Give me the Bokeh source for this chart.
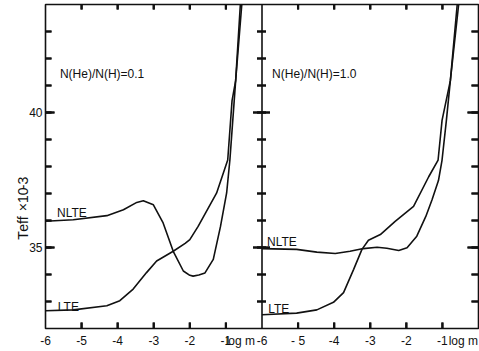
import math
from bokeh.plotting import figure
from bokeh.models import (ColumnDataSource, LinearAxis, FixedTicker, Range1d, Label, Span)
from bokeh.transform import dodge
from bokeh.embed import file_html
from bokeh.resources import INLINE

# ---------------- data ----------------
# left panel: N(He)/N(H) = 0.1
left_nlte_logm = [-6.0, -5.23, -4.30, -3.84, -3.47, -3.29, -3.01, -2.74, -2.46, -2.18,
                  -2.0, -1.91, -1.75, -1.58, -1.35, -1.15, -0.98, -0.89, -0.77, -0.73, -0.60]
left_nlte_teff = [35.97, 36.03, 36.18, 36.40, 36.67, 36.73, 36.58, 35.91, 34.86, 34.13,
                  33.97, 33.94, 33.98, 34.06, 34.56, 35.78, 37.02, 38.24, 40.44, 41.18, 44.0]
left_lte_logm = [-6.0, -5.23, -4.30, -3.94, -3.57, -3.20, -2.92, -2.46, -2.13, -2.0,
                 -1.77, -1.26, -0.95, -0.83, -0.73, -0.56]
left_lte_teff = [32.66, 32.69, 32.84, 33.03, 33.46, 34.07, 34.50, 34.86, 35.15, 35.29,
                 35.78, 37.01, 38.24, 40.44, 41.18, 44.0]

# right panel: N(He)/N(H) = 1.0
right_nlte_logm = [-6.0, -5.04, -4.48, -3.97, -3.56, -3.19, -2.81, -2.54, -2.21, -1.98,
                   -1.71, -1.46, -1.29, -1.11, -1.01, -0.89, -0.78, -0.59]
right_nlte_teff = [34.96, 34.93, 34.83, 34.78, 34.86, 34.96, 35.01, 34.97, 34.89, 34.99,
                   35.42, 36.15, 36.76, 37.48, 38.24, 39.71, 41.18, 44.0]
right_lte_logm = [-6.0, -5.04, -4.48, -4.02, -3.74, -3.46, -3.23, -3.05, -2.72, -2.31,
                  -1.80, -1.38, -1.12, -1.01, -0.78, -0.55]
right_lte_teff = [32.51, 32.57, 32.69, 32.97, 33.33, 34.19, 34.93, 35.27, 35.48, 35.97,
                  36.52, 37.62, 38.24, 39.71, 41.18, 44.0]

x_ticks = [-6.0, -5.0, -4.0, -3.0, -2.0, -1.0]
x_tick_labels_left = ["-6", "-5", "-4", "-3", "-2", "-1"]
x_tick_labels_right = ["-6", "- 5", "-4", "-3", "-2", "-1"]
x_title = "log m"
x_title_pos = [-0.60, -0.42]          # where "log m" sits in each panel
y_major = [35.0, 40.0]
y_minor = [33.0, 34.0, 35.0, 36.0, 37.0, 38.0, 39.0, 40.0, 41.0, 42.0, 43.0]
y_title_parts = ["T", "eff", "×10", "-3"]
y_title_pos = [35.60, 36.15, 37.22, 37.62]
panel_titles = ["N(He)/N(H)=0.1", "N(He)/N(H)=1.0"]

OFFSET = 6.0  # right panel is drawn shifted by 6 units in log m
X0, X1 = -6.0, 6.0
Y0, Y1 = 32.0, 44.0
W, H = 479, 351
BL, BR, BT, BB = 45, 1, 4, 23
FONT = "Liberation Sans"
INK = "#111111"

p = figure(width=W, height=H, x_range=Range1d(X0, X1), y_range=Range1d(Y0, Y1),
           x_axis_type=None, y_axis_type=None, output_backend="svg",
           toolbar_location=None, min_border_left=BL, min_border_right=BR,
           min_border_top=BT, min_border_bottom=BB)
p.outline_line_color = INK
p.outline_line_width = 1.6
p.background_fill_color = "white"
p.border_fill_color = "white"

# size of one screen pixel in data units (for tick sizes)
PX = (X1 - X0) / (W - BL - BR)
PY = (Y1 - Y0) / (H - BT - BB)

def label_axis(ax, size="12px"):
    ax.axis_line_color = None
    ax.major_tick_line_color = None
    ax.minor_tick_line_color = None
    ax.major_tick_in = 0
    ax.major_tick_out = 0
    ax.minor_tick_in = 0
    ax.minor_tick_out = 0
    ax.major_label_text_font = FONT
    ax.major_label_text_color = INK
    ax.major_label_text_font_size = size

# bottom axis: tick labels and the "log m" titles
bottom_ticks = x_ticks + [t + OFFSET for t in x_ticks]
overrides = {}
for t, l in zip(x_ticks, x_tick_labels_left):
    overrides[int(t)] = l
for t, l in zip(x_ticks, x_tick_labels_right):
    overrides[int(t + OFFSET)] = l
overrides[x_title_pos[0]] = x_title
overrides[x_title_pos[1] + OFFSET] = x_title
bx = LinearAxis(ticker=FixedTicker(ticks=bottom_ticks + [x_title_pos[0], x_title_pos[1] + OFFSET],
                                   minor_ticks=[]),
                major_label_overrides=overrides, major_label_standoff=5)
label_axis(bx)
p.add_layout(bx, "below")

# left axis: tick labels
ly = LinearAxis(ticker=FixedTicker(ticks=y_major, minor_ticks=[]), major_label_standoff=3,
                major_label_overrides={35: "35", 40: "40"})
label_axis(ly)
p.add_layout(ly, "left")

# left axis title (rotated pieces of T_eff x 10^-3)
ty = LinearAxis(ticker=FixedTicker(ticks=y_title_pos, minor_ticks=[]),
                major_label_overrides={v: s for v, s in zip(y_title_pos, y_title_parts)},
                major_label_orientation=math.pi / 2, major_label_standoff=3)
label_axis(ty, size="14px")
p.add_layout(ty, "left")

# divider between panels
div = OFFSET + X0
p.add_layout(Span(location=div, dimension="height", line_color=INK, line_width=1.6))

# tick marks: thin filled bars (and segments on top), drawn from the tick values
q_l, q_r, q_b, q_t = [], [], [], []
s_x0, s_y0, s_x1, s_y1 = [], [], [], []
HALF = 1.1  # half thickness of a tick in pixels

def hticks(x, ys, left_px, right_px):
    for y in ys:
        q_l.append(x - left_px * PX); q_r.append(x + right_px * PX)
        q_b.append(y - HALF * PY); q_t.append(y + HALF * PY)
        s_x0.append(x - left_px * PX); s_x1.append(x + right_px * PX)
        s_y0.append(y); s_y1.append(y)

def vticks(xs, y, down_px, up_px):
    for x in xs:
        q_l.append(x - HALF * PX); q_r.append(x + HALF * PX)
        q_b.append(y - down_px * PY); q_t.append(y + up_px * PY)
        s_x0.append(x); s_x1.append(x)
        s_y0.append(y - down_px * PY); s_y1.append(y + up_px * PY)

hticks(X0, y_minor, 0, 6)
hticks(X0, y_major, 0, 9)
hticks(X1, y_minor, 7, 0)
hticks(X1, y_major, 11, 0)
hticks(div, y_minor, 5, 4)
hticks(div, y_major, 9, 8)
inner_x = [t for t in bottom_ticks if t not in (X0, div)]
vticks(inner_x, Y1, 5, 0)
vticks(inner_x, Y0, 0, 6)

q_src = ColumnDataSource(dict(left=q_l, right=q_r, bottom=q_b, top=q_t))
p.quad(left="left", right="right", bottom="bottom", top="top", source=q_src,
       fill_color=INK, line_color=None)
s_src = ColumnDataSource(dict(x0=s_x0, y0=s_y0, x1=s_x1, y1=s_y1))
p.segment(x0="x0", y0="y0", x1="x1", y1="y1", source=s_src,
          line_color=INK, line_width=2.0)

# curves
for xs, ys, shift in [(left_nlte_logm, left_nlte_teff, 0.0), (left_lte_logm, left_lte_teff, 0.0),
                      (right_nlte_logm, right_nlte_teff, OFFSET), (right_lte_logm, right_lte_teff, OFFSET)]:
    src = ColumnDataSource(dict(x=xs, y=ys))
    p.line(x=dodge("x", shift), y="y", source=src, line_color=INK, line_width=1.6)

def lab(x, y, text, size="12px"):
    p.add_layout(Label(x=x, y=y, text=text, text_font=FONT, text_font_size=size,
                       text_color=INK, text_baseline="middle", text_align="left"))

# panel annotations
lab(-5.60, 41.44, panel_titles[0])
lab(OFFSET - 5.72, 41.44, panel_titles[1])
lab(-5.68, 36.26, "NLTE")
lab(-5.66, 32.81, "LTE")
lab(OFFSET - 5.86, 35.19, "NLTE")
lab(OFFSET - 5.83, 32.74, "LTE")

open("out.html", "w").write(file_html(p, INLINE))
